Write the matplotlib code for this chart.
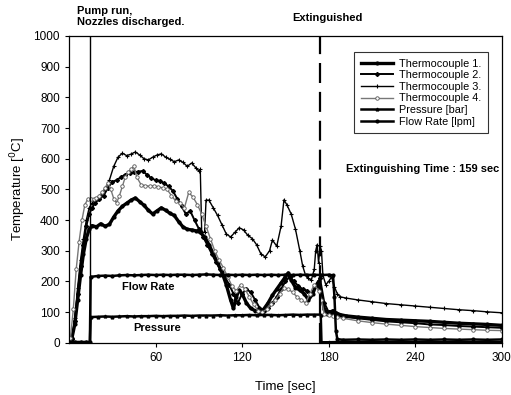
import matplotlib
matplotlib.use("Agg")
import matplotlib.pyplot as plt
from matplotlib.lines import Line2D

plt.rcParams['font.family'] = ['Liberation Sans', 'DejaVu Sans']

# Thermocouple 1
tc1_t = [0, 2, 4, 6, 8, 10, 12, 14, 16, 19, 22, 25, 28, 31, 34, 37, 40, 43, 46, 49,
         52, 55, 58, 61, 64, 67, 70, 73, 76, 79, 82, 85, 88, 91, 94, 97, 100, 103, 106,
         109, 112, 114, 116, 118, 120, 123, 126, 129, 132, 135, 138, 141, 144, 147, 150,
         152, 154, 157, 160, 163, 166, 169, 171, 173, 175, 177, 179, 181, 183, 185, 188,
         192, 200, 210, 220, 230, 240, 250, 260, 270, 280, 290, 300]
tc1 = [5, 15, 60, 140, 220, 290, 340, 370, 382, 378, 388, 380, 386, 410, 430, 445, 455,
       465, 472, 460, 448, 432, 420, 430, 440, 432, 422, 415, 395, 378, 370, 368, 365,
       360, 345, 320, 290, 260, 230, 190, 140, 112, 150, 172, 160, 130, 112, 105, 102,
       110, 130, 155, 175, 195, 215, 228, 205, 180, 172, 160, 140, 160, 185, 200, 150,
       110, 95, 100, 105, 98, 92, 88, 84, 80, 76, 74, 72, 70, 67, 64, 62, 60, 57]

# Thermocouple 2
tc2_t = [0, 2, 4, 6, 8, 10, 12, 14, 16, 18, 21, 24, 27, 30, 33, 36, 39, 42, 45, 48, 51,
         54, 57, 60, 63, 66, 69, 72, 75, 78, 81, 84, 87, 90, 93, 96, 99, 102, 105, 108,
         111, 114, 117, 120, 123, 126, 129, 132, 135, 138, 141, 144, 147, 150, 153, 156,
         159, 162, 165, 168, 171, 174, 177, 180, 183, 186, 190, 200, 210, 220, 230, 240,
         250, 260, 270, 280, 290, 300]
tc2 = [5, 12, 70, 160, 250, 320, 380, 420, 440, 455, 470, 480, 505, 525, 530, 540, 548,
       552, 556, 558, 560, 548, 537, 530, 528, 520, 510, 495, 470, 445, 420, 430, 400,
       372, 345, 318, 290, 262, 240, 215, 190, 160, 130, 160, 175, 165, 140, 115, 105,
       112, 130, 150, 175, 200, 215, 200, 185, 175, 170, 160, 185, 210, 130, 100, 95,
       90, 85, 80, 75, 70, 67, 64, 60, 58, 55, 53, 51, 49]

# Thermocouple 3
tc3_t = [0, 2, 4, 6, 8, 10, 12, 14, 16, 18, 20, 22, 25, 28, 31, 34, 37, 40, 43, 46, 49,
         52, 55, 58, 61, 64, 67, 70, 73, 76, 79, 82, 85, 88, 90, 91, 92, 94, 95, 97, 100,
         103, 106, 109, 112, 115, 118, 121, 124, 127, 130, 133, 136, 139, 141, 144, 147,
         149, 151, 154, 157, 160, 162, 164, 166, 168, 170, 171, 172, 173, 174, 175, 176,
         178, 180, 182, 184, 186, 188, 192, 200, 210, 220, 230, 240, 250, 260, 270, 280,
         290, 300]
tc3 = [5, 15, 80, 180, 270, 340, 400, 440, 455, 465, 470, 478, 500, 530, 575, 605, 618,
       610, 615, 622, 612, 600, 596, 605, 612, 616, 605, 598, 590, 596, 588, 575, 586,
       570, 560, 565, 360, 360, 465, 465, 440, 415, 385, 355, 345, 360, 375, 368, 350,
       340, 320, 290, 280, 300, 335, 315, 380, 466, 450, 420, 370, 300, 250, 220, 210,
       205, 240, 300, 320, 260, 315, 300, 220, 190, 200, 215, 182, 160, 150, 146, 140,
       134, 128, 124, 120, 116, 112, 108, 105, 101, 98]

# Thermocouple 4
tc4_t = [0, 1, 3, 5, 7, 9, 11, 13, 15, 17, 19, 21, 23, 25, 27, 29, 31, 33, 35, 37, 39,
         41, 43, 45, 47, 50, 53, 56, 59, 62, 65, 68, 71, 74, 77, 80, 83, 86, 89, 92, 95,
         98, 101, 104, 107, 110, 113, 116, 119, 122, 125, 128, 131, 134, 137, 140, 143,
         146, 149, 152, 155, 158, 161, 164, 167, 170, 173, 175, 177, 180, 183, 186, 190,
         200, 210, 220, 230, 240, 250, 260, 270, 280, 290, 300]
tc4 = [5, 15, 110, 240, 330, 400, 450, 468, 470, 468, 472, 480, 490, 505, 521, 500, 470,
       456, 480, 510, 540, 557, 565, 575, 540, 515, 512, 510, 512, 508, 505, 500, 480,
       462, 456, 440, 490, 475, 450, 420, 380, 340, 300, 270, 245, 215, 185, 170, 190,
       175, 150, 125, 105, 100, 110, 125, 140, 160, 180, 175, 165, 150, 140, 130, 160,
       190, 170, 140, 95, 90, 88, 84, 80, 72, 66, 61, 57, 53, 50, 47, 45, 43, 41, 40]

# Nozzle pressure [bar]
pres_t = [0, 4, 8, 12, 14.5, 15, 20, 25, 30, 35, 40, 45, 50, 55, 60, 65, 70, 75, 80, 85,
          90, 95, 100, 105, 110, 115, 120, 125, 130, 135, 140, 145, 150, 155, 160, 165,
          170, 174.5, 175, 180, 190, 200, 210, 220, 230, 240, 250, 260, 270, 280, 290, 300]
pres = [2, 3, 2, 3, 2, 84, 85, 86, 85, 86, 87, 86, 87, 87, 88, 87, 88, 88, 89, 88, 89,
        89, 89, 90, 89, 90, 90, 91, 90, 91, 91, 90, 91, 92, 91, 92, 92, 92, 2, 2, 3, 2,
        3, 2, 3, 2, 3, 2, 3, 2, 3, 2]

# Flow rate [lpm]
flow_t = [0, 4, 8, 12, 14.5, 15, 20, 25, 30, 35, 40, 45, 50, 55, 60, 65, 70, 75, 80, 85,
          90, 95, 100, 105, 110, 115, 120, 125, 130, 135, 140, 145, 150, 155, 160, 165,
          170, 175, 180, 183, 184, 185, 186, 190, 200, 210, 220, 230, 240, 250, 260, 270,
          280, 290, 300]
flow = [3, 2, 3, 2, 3, 215, 218, 219, 218, 220, 221, 220, 221, 222, 221, 222, 221, 222,
        222, 221, 222, 223, 222, 221, 222, 221, 222, 221, 222, 221, 222, 221, 222, 221,
        222, 221, 222, 221, 222, 220, 150, 40, 12, 10, 11, 10, 11, 10, 11, 10, 11, 10, 11,
        10, 11]

pump_on = 14.5
extinguished = 174

fig = plt.figure(figsize=(5.11, 3.95), dpi=100)
ax = fig.add_axes([0.135, 0.132, 0.847, 0.777])

ax.plot(tc1_t, tc1, color='black', lw=2.4, marker='o', ms=2, label='Thermocouple 1.')
ax.plot(tc2_t, tc2, color='black', lw=1.4, marker='D', ms=2, label='Thermocouple 2.')
ax.plot(tc3_t, tc3, color='black', lw=1.0, marker='+', ms=3, mew=0.8,
        label='Thermocouple 3.')
ax.plot(tc4_t, tc4, color='#777777', lw=1.0, marker='o', ms=2.5, mfc='white',
        mec='#555555', mew=0.6, label='Thermocouple 4.')
ax.plot(pres_t, pres, color='black', lw=1.8, marker='^', ms=2, label='Pressure [bar]')
ax.plot(flow_t, flow, color='black', lw=1.8, marker='o', ms=2, label='Flow Rate [lpm]')

ax.axvline(pump_on, color='black', lw=1.0)
ax.axvline(extinguished, color='black', lw=1.6, dashes=(9, 4))

ax.set_xlim(0, 300)
ax.set_ylim(0, 1000)
ax.set_xticks([60, 120, 180, 240, 300])
ax.set_yticks(range(0, 1001, 100))
ax.tick_params(labelsize=8.5, direction='out', length=3, width=0.8)
ax.set_xlabel('Time [sec]', fontsize=9.5, labelpad=12)
ax.set_ylabel('Temperature [$^{0}$C]', fontsize=9.5)
for s in ax.spines.values():
    s.set_linewidth(0.9)

leg = ax.legend(loc='upper right', bbox_to_anchor=(0.98, 0.965), fontsize=7.8,
                frameon=True, fancybox=False, edgecolor='black', handlelength=3,
                labelspacing=0.15, borderpad=0.6, handletextpad=0.5)
leg.get_frame().set_linewidth(0.8)

ax.text(55, 182, 'Flow Rate', fontsize=8, fontweight='bold', ha='center', va='center')
ax.text(61, 50, 'Pressure', fontsize=8, fontweight='bold', ha='center', va='center')
ax.text(0.995, 0.565, 'Extinguishing Time : 159 sec', transform=ax.transAxes,
        fontsize=8, fontweight='bold', ha='right', va='center')

fig.text(0.151, 0.985, 'Pump run,\nNozzles discharged.', fontsize=8, fontweight='bold',
         ha='left', va='top', linespacing=1.1)
fig.text(0.64, 0.955, 'Extinguished', fontsize=8, fontweight='bold', ha='center',
         va='center')

fig.savefig('out.png', dpi=100)
